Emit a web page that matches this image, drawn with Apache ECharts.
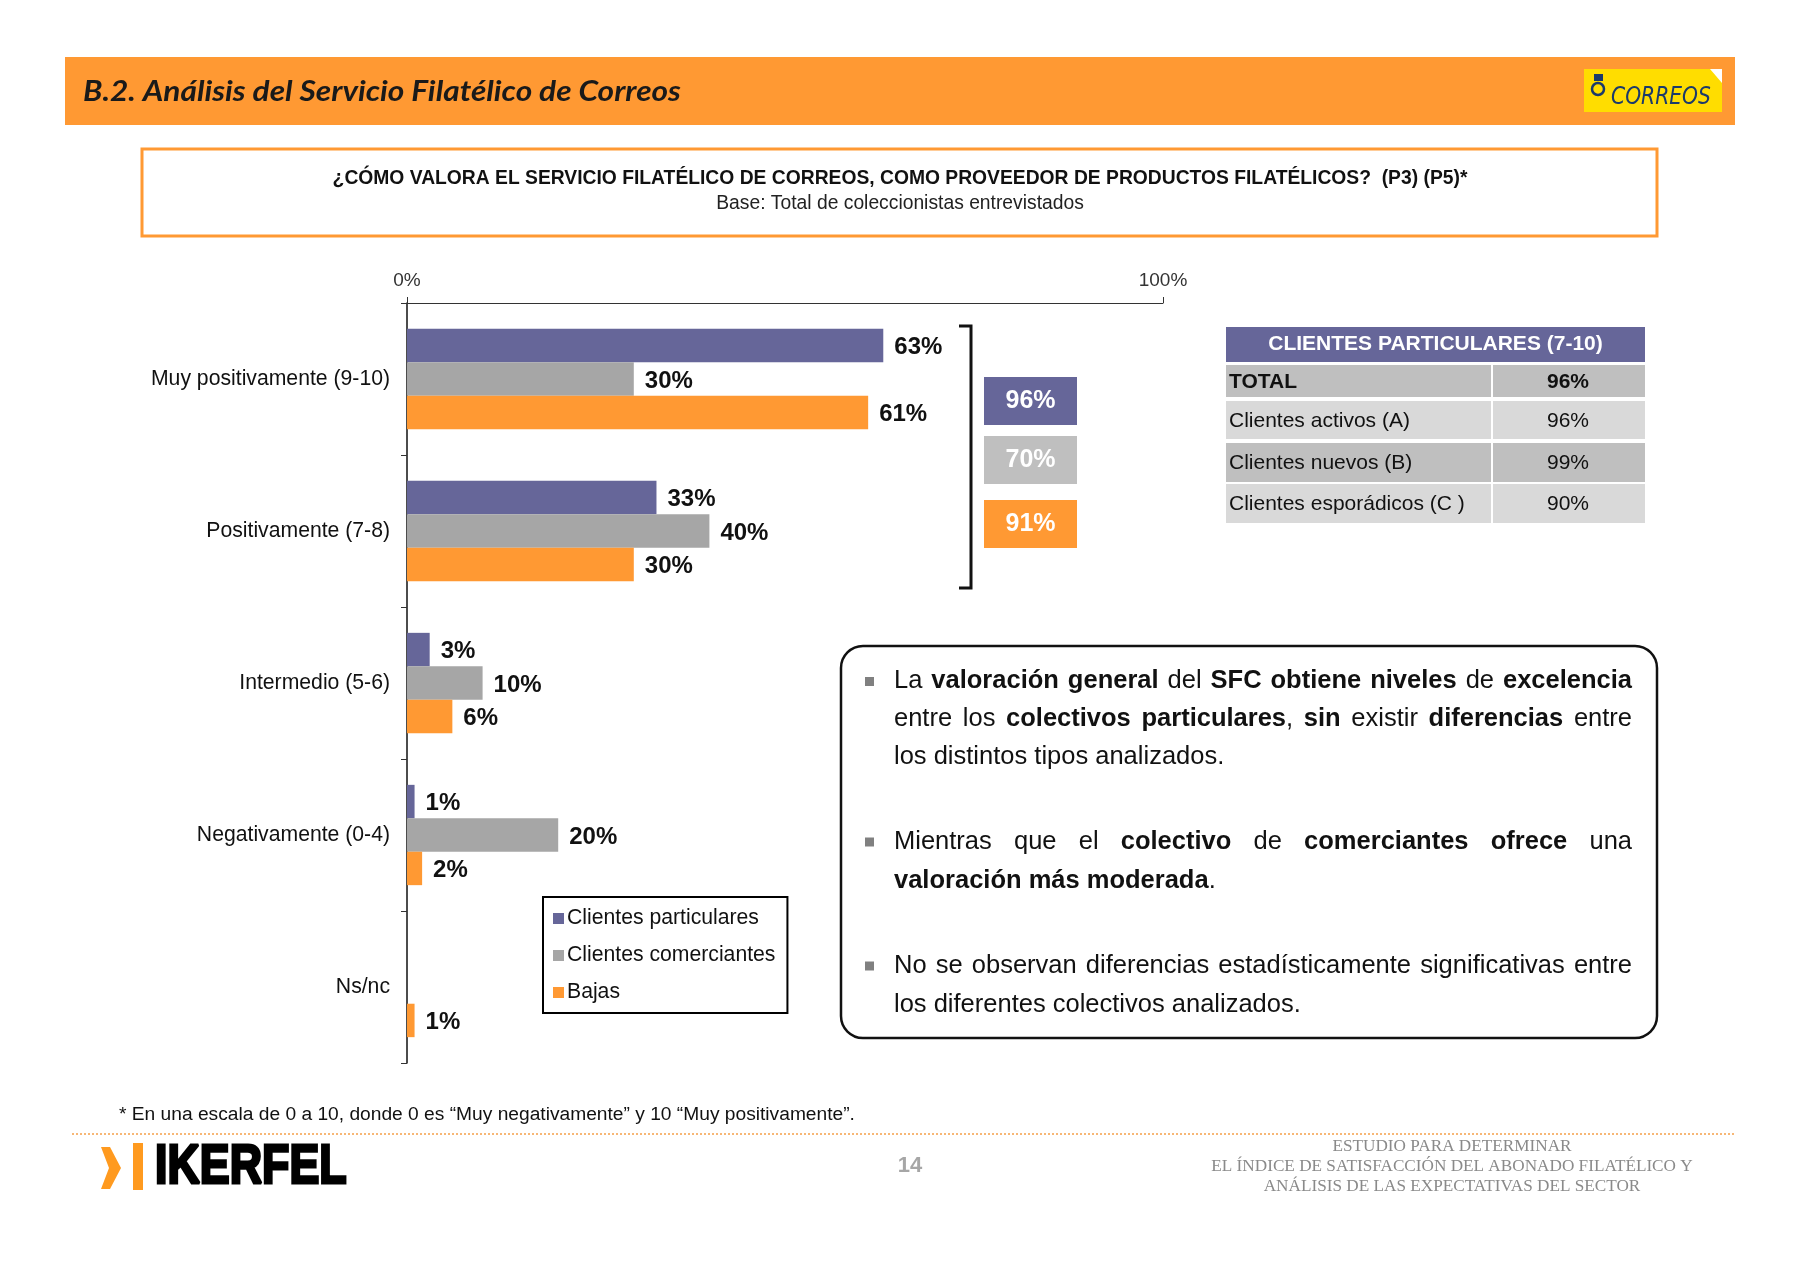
<!DOCTYPE html>
<html><head><meta charset="utf-8">
<script src="https://cdn.jsdelivr.net/npm/echarts@6/dist/echarts.min.js"></script>
<style>html,body{margin:0;padding:0;background:#fff;overflow:hidden;} #c{width:1800px;height:1261px;}</style>
</head><body><div id="c"></div>
<script>
// ---------- DATA ----------
const categories = ['Muy positivamente (9-10)', 'Positivamente (7-8)', 'Intermedio (5-6)', 'Negativamente (0-4)', 'Ns/nc'];
const seriesNames = ['Clientes particulares', 'Clientes comerciantes', 'Bajas'];
const particulares = [63, 33, 3, 1, null];
const comerciantes = [30, 40, 10, 20, null];
const bajas = [61, 30, 6, 2, 1];
const xTickValues = [0, 100];
const summaryValues = [96, 70, 91];
const tableHeader = 'CLIENTES PARTICULARES (7-10)';
const tableLabels = ['TOTAL', 'Clientes activos (A)', 'Clientes nuevos (B)', 'Clientes esporádicos (C )'];
const tableValues = [96, 96, 99, 90];
const headerTitle = 'B.2. Análisis del Servicio Filatélico de Correos';
const questionText = '¿CÓMO VALORA EL SERVICIO FILATÉLICO DE CORREOS, COMO PROVEEDOR DE PRODUCTOS FILATÉLICOS?  (P3) (P5)*';
const baseText = 'Base: Total de coleccionistas entrevistados';
const footnote = '* En una escala de 0 a 10, donde 0 es “Muy negativamente” y 10 “Muy positivamente”.';
const footerLines = ['ESTUDIO PARA DETERMINAR', 'EL ÍNDICE DE SATISFACCIÓN DEL ABONADO FILATÉLICO Y', 'ANÁLISIS DE LAS EXPECTATIVAS DEL SECTOR'];
const pageNumber = '14';
const paragraphs = [
  ['La **valoración general** del **SFC obtiene niveles** de **excelencia**',
   'entre los **colectivos particulares**, **sin** existir **diferencias** entre',
   'los distintos tipos analizados.'],
  ['Mientras que el **colectivo** de **comerciantes ofrece** una',
   '**valoración más moderada**.'],
  ['No se observan diferencias estadísticamente significativas entre',
   'los diferentes colectivos analizados.']
];

// ---------- STYLE ----------
const COLORS = ['#666699', '#A6A6A6', '#FF9933'];
const BOX_COLORS = ['#666699', '#BFBFBF', '#FF9933'];
const FF = '"Liberation Sans", Arial, sans-serif';

const chart = echarts.init(document.getElementById('c'), null, {renderer: 'canvas'});

function txt(x, y, text, o) {
  o = o || {};
  return {
    type: 'text', x: x, y: y, z: o.z || 10,
    scaleX: o.scaleX || 1,
    style: {
      text: text,
      font: (o.italic ? 'italic ' : '') + (o.bold ? 'bold ' : '') + (o.size || 16) + 'px ' + (o.family || FF),
      fill: o.color || '#111',
      textAlign: o.align || 'left', align: o.align || 'left',
      textVerticalAlign: 'middle', verticalAlign: 'middle',
      stroke: o.stroke, lineWidth: o.lineWidth
    }
  };
}

const g = [];
// header bar
g.push({type: 'rect', shape: {x: 65, y: 57, width: 1670, height: 68}, style: {fill: '#FF9933'}, z: 1});
g.push(txt(83, 92, headerTitle, {bold: true, italic: true, size: 28, family: 'Lato, "Open Sans", sans-serif', color: '#1a1a1a', scaleX: 1.13}));
// Correos logo
g.push({type: 'rect', shape: {x: 1584, y: 69, width: 138, height: 43}, style: {fill: '#FFDD00'}, z: 2});
g.push({type: 'polygon', shape: {points: [[1710, 69], [1722, 69], [1722, 83]]}, style: {fill: '#ffffff'}, z: 3});
g.push({type: 'circle', shape: {cx: 1598, cy: 89, r: 6}, style: {fill: 'none', stroke: '#1B3A6B', lineWidth: 2.5}, z: 3});
g.push({type: 'rect', shape: {x: 1594, y: 74, width: 9, height: 7}, style: {fill: '#1B3A6B'}, z: 3});
g.push(txt(1611, 97, 'CORREOS', {italic: true, size: 25, family: '"Liberation Sans Narrow", "DejaVu Sans Condensed", sans-serif', color: '#1B3A6B', scaleX: 0.9}));

// title box
g.push({type: 'rect', shape: {x: 142, y: 149, width: 1515, height: 87}, style: {fill: 'none', stroke: '#FF9933', lineWidth: 3}, z: 2});
g.push(txt(900, 179, questionText, {bold: true, size: 19.3, align: 'center'}));
g.push(txt(900, 204, baseText, {size: 19.3, align: 'center', color: '#222'}));

// bracket
g.push({type: 'polyline', shape: {points: [[959, 326], [971, 326], [971, 588], [959, 588]]}, style: {stroke: '#111', lineWidth: 3, fill: 'none'}, z: 5});
// summary boxes
const boxTops = [377, 436, 500];
summaryValues.forEach((v, i) => {
  g.push({type: 'rect', shape: {x: 984, y: boxTops[i], width: 93, height: 48}, style: {fill: BOX_COLORS[i]}, z: 5});
  g.push(txt(1030.5, boxTops[i] + 24, v + '%', {bold: true, size: 25, align: 'center', color: '#ffffff', z: 6}));
});

// table
const tX0 = 1226, tX1 = 1645, tSplit = 1492;
g.push({type: 'rect', shape: {x: tX0, y: 327, width: tX1 - tX0, height: 35}, style: {fill: '#666699'}, z: 5});
g.push(txt((tX0 + tX1) / 2, 344.5, tableHeader, {bold: true, size: 21, align: 'center', color: '#ffffff', z: 6}));
const rowTops = [365, 401, 443, 484];
const rowH = [32, 38, 39, 39];
const rowFill = ['#BFBFBF', '#D9D9D9', '#BFBFBF', '#D9D9D9'];
tableLabels.forEach((lab, i) => {
  g.push({type: 'rect', shape: {x: tX0, y: rowTops[i], width: tSplit - tX0 - 1, height: rowH[i]}, style: {fill: rowFill[i]}, z: 5});
  g.push({type: 'rect', shape: {x: tSplit + 1, y: rowTops[i], width: tX1 - tSplit - 1, height: rowH[i]}, style: {fill: rowFill[i]}, z: 5});
  g.push(txt(tX0 + 3, rowTops[i] + rowH[i] / 2 + 1, lab, {bold: i === 0, size: 21, z: 6}));
  g.push(txt(1568, rowTops[i] + rowH[i] / 2 + 1, tableValues[i] + '%', {bold: i === 0, size: 21, align: 'center', z: 6}));
});

// comment box
g.push({type: 'rect', shape: {x: 841, y: 646, width: 816, height: 392, r: 22}, style: {fill: '#fff', stroke: '#111', lineWidth: 2.5}, z: 3});
const mctx = document.createElement('canvas').getContext('2d');
const PSIZE = 25.5;
function pfont(b) { return (b ? 'bold ' : '') + PSIZE + 'px ' + FF; }
function parseLine(s) {
  const parts = s.split('**');
  const words = []; let cur = [];
  parts.forEach((p, i) => {
    const bold = i % 2 === 1;
    p.split(' ').forEach((seg, j) => {
      if (j > 0) { if (cur.length) words.push(cur); cur = []; }
      if (seg) cur.push({t: seg, b: bold});
    });
  });
  if (cur.length) words.push(cur);
  return words;
}
function wWidth(w) { return w.reduce((a, p) => { mctx.font = pfont(p.b); return a + mctx.measureText(p.t).width; }, 0); }
mctx.font = pfont(false);
const spaceW = mctx.measureText(' ').width;
const PX0 = 894, PX1 = 1632;
const lineYs = [[681, 719, 756.5], [841.5, 880.5], [965.5, 1004.5]];
paragraphs.forEach((para, pi) => {
  g.push({type: 'rect', shape: {x: 865, y: lineYs[pi][0] - 4, width: 9, height: 9}, style: {fill: '#808080'}, z: 6});
  para.forEach((line, li) => {
    const words = parseLine(line);
    const widths = words.map(wWidth);
    const total = widths.reduce((a, b) => a + b, 0);
    const last = li === para.length - 1;
    let gap = spaceW;
    if (!last && words.length > 1) gap = Math.max(2, (PX1 - PX0 - total) / (words.length - 1));
    const sx = (total + gap * (words.length - 1) > PX1 - PX0 && !last) ? (PX1 - PX0) / (total + gap * (words.length - 1)) : 1;
    let x = PX0;
    words.forEach((w, wi) => {
      let px = x;
      w.forEach(p => {
        g.push(txt(px, lineYs[pi][li], p.t, {bold: p.b, size: PSIZE, z: 6, scaleX: sx}));
        mctx.font = pfont(p.b);
        px += mctx.measureText(p.t).width * sx;
      });
      x += (widths[wi] + gap) * sx;
    });
  });
});

// footnote
g.push(txt(119, 1115, footnote, {size: 19.2, color: '#111'}));
// dotted line
g.push({type: 'line', shape: {x1: 72, y1: 1134, x2: 1735, y2: 1134}, style: {stroke: '#F5A04A', lineWidth: 1.5, lineDash: [2, 2]}, z: 2});
// IKERFEL logo
g.push({type: 'polygon', shape: {points: [[101, 1147], [110, 1147], [121, 1168], [110, 1189], [101, 1189], [109, 1168]]}, style: {fill: '#FF9A1F'}, z: 3});
g.push({type: 'rect', shape: {x: 133, y: 1143, width: 10, height: 47}, style: {fill: '#FF9A1F'}, z: 3});
g.push(txt(155, 1168, 'IKERFEL', {bold: true, size: 56, color: '#000', scaleX: 0.8, stroke: '#000', lineWidth: 3}));
// page number
g.push(txt(910, 1166, pageNumber, {bold: true, size: 22, align: 'center', color: '#A6A6A6'}));
// footer right
const fYs = [1146, 1166, 1186];
footerLines.forEach((l, i) => g.push(txt(1452, fYs[i], l, {size: 17.2, align: 'center', color: '#8a8a8a', family: '"Liberation Serif", "DejaVu Serif", serif'})));

const labelStyle = {show: true, position: 'right', distance: 11, offset: [0, 2], formatter: '{c}%', fontSize: 24, fontWeight: 'bold', color: '#111', fontFamily: FF};

const option = {
  backgroundColor: '#ffffff',
  animation: false,
  textStyle: {fontFamily: FF},
  grid: {left: 407, top: 303, width: 756, height: 760, containLabel: false},
  legend: {
    data: seriesNames, orient: 'vertical', left: 543, top: 897,
    icon: 'rect', itemWidth: 11, itemHeight: 11, itemGap: 16,
    borderColor: '#000', borderWidth: 2, padding: [11, 12, 10, 10],
    textStyle: {fontSize: 21.2, color: '#111', fontFamily: FF, padding: [0, 0, 0, -2]},
    backgroundColor: '#fff'
  },
  xAxis: {
    type: 'value', position: 'top', min: xTickValues[0], max: xTickValues[1], interval: xTickValues[1] - xTickValues[0],
    axisLine: {show: true, lineStyle: {color: '#333', width: 1}},
    axisTick: {show: true, length: 6, lineStyle: {color: '#333'}},
    axisLabel: {formatter: '{value}%', fontSize: 19, color: '#333', margin: 13},
    splitLine: {show: false}
  },
  yAxis: {
    type: 'category', inverse: true, data: categories,
    axisLine: {show: true, lineStyle: {color: '#111', width: 1.5}},
    axisTick: {show: true, length: 6, lineStyle: {color: '#333'}},
    axisLabel: {fontSize: 21.2, color: '#111', margin: 17, padding: [7, 0, 0, 0]}
  },
  series: [
    {name: seriesNames[0], type: 'bar', data: particulares, itemStyle: {color: COLORS[0]}, barGap: '0%', barCategoryGap: '34%', label: labelStyle},
    {name: seriesNames[1], type: 'bar', data: comerciantes, itemStyle: {color: COLORS[1]}, barGap: '0%', barCategoryGap: '34%', label: labelStyle},
    {name: seriesNames[2], type: 'bar', data: bajas, itemStyle: {color: COLORS[2]}, barGap: '0%', barCategoryGap: '34%', label: labelStyle}
  ],
  graphic: g
};
chart.setOption(option);
</script>
</body></html>
